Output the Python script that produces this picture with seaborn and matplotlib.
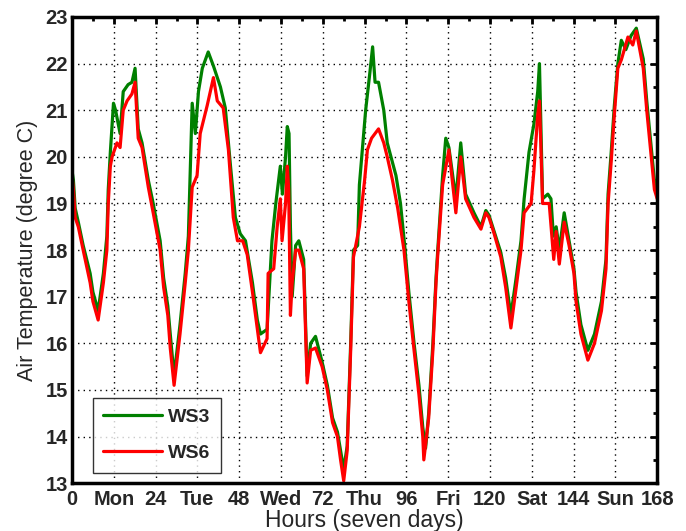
import pandas as pd
import seaborn as sns
import matplotlib
matplotlib.use("Agg")
import matplotlib.pyplot as plt
from matplotlib.ticker import MultipleLocator

# hours / temperature
ws3_hours = [0, 0.4, 0.9, 1.8, 3.2, 5.2, 6, 7.5, 9, 10, 10.4, 11, 11.9, 12.5, 13.8, 14.7, 16.1, 17.2, 18.1,
             19, 20.1, 21.9, 23.3, 25.3, 26.3, 27.5, 28.2, 29.3, 31, 32.5, 33.4, 34.5, 35.4, 36.3, 37.4, 39.1,
             40.6, 42.6, 44, 45.5, 46.9, 48.3, 49.8, 51.8, 53.2, 54.1, 56, 57.4, 58.5, 59.3, 59.8, 60.4, 61.3,
             61.8, 62.3, 62.7, 63.2, 64.2, 65.1, 66.5, 67.5, 68.5, 69.9, 71.8, 73.3, 74.8, 76.2, 77.1, 78, 79,
             80, 80.8, 82, 82.5, 84.3, 85.5, 86.3, 87, 88, 89.5, 90.5, 93, 94.3, 95.5, 96.7, 98.2, 99.6, 100.7,
             101.5, 102.4, 103.6, 104.5, 105, 106.4, 107.3, 108.2, 110.2, 111.6, 113, 115.4, 117.4, 118.8,
             119.7, 121.2, 123.1, 124.5, 126, 127.5, 128.9, 129.8, 131.2, 132.6, 133.7, 134.2, 135.1, 136.6,
             137.5, 138.2, 139, 139.9, 141.3, 142.7, 144.1, 144.7, 146.1, 148.1, 150, 152, 153.3, 153.9, 154.8,
             155.7, 156.7, 157.7, 159, 160.5, 162, 164, 165, 166.3, 167.2, 168]
ws3_temp = [19.7, 19.5, 18.9, 18.6, 18.1, 17.5, 17.1, 16.7, 17.5, 18.3, 19.3, 20.1, 21.15, 21.0, 20.5, 21.4,
            21.55, 21.6, 21.9, 20.6, 20.3, 19.5, 19.0, 18.2, 17.4, 16.8, 16.2, 15.3, 16.4, 17.5, 18.3, 21.15,
            20.5, 21.4, 21.9, 22.25, 21.95, 21.5, 21.05, 19.8, 18.7, 18.35, 18.2, 17.3, 16.5, 16.2, 16.3, 18.2,
            19.0, 19.5, 19.8, 19.2, 20.0, 20.65, 20.5, 18.5, 17.0, 18.1, 18.2, 17.8, 15.3, 16.0, 16.15, 15.6,
            15.1, 14.4, 14.1, 13.7, 13.3, 13.8, 16.0, 18.0, 18.1, 19.4, 21.0, 21.8, 22.36, 21.6, 21.6, 21.0,
            20.3, 19.6, 19.0, 18.1, 17.1, 16.0, 15.1, 14.2, 13.75, 14.5, 16.0, 17.4, 18.0, 19.6, 20.4, 20.2,
            19.1, 20.3, 19.2, 18.8, 18.5, 18.85, 18.75, 18.4, 17.95, 17.4, 16.6, 17.4, 18.2, 19.1, 20.1, 20.7,
            21.4, 22.0, 19.1, 19.2, 19.1, 18.3, 18.5, 18.0, 18.8, 18.2, 17.6, 17.1, 16.4, 15.85, 16.2, 16.9,
            17.8, 19.2, 20.1, 21.1, 22.0, 22.5, 22.3, 22.6, 22.76, 22.1, 21.2, 20.2, 19.5, 19.2]

ws6_hours = [0, 0.4, 0.9, 1.8, 3.2, 5.2, 6, 7.5, 9, 10, 10.4, 11, 11.5, 12.9, 13.8, 14.7, 15.8, 17.2, 18.1,
             19, 20.1, 21.9, 23.3, 25.3, 26.3, 27.5, 28.2, 29.3, 31, 32.5, 33.4, 34.5, 35.9, 36.8, 38.8, 40.6,
             41.7, 43.4, 44.9, 46.3, 47.5, 49, 50.3, 51.8, 53.2, 54.1, 56, 56.3, 57.9, 58.9, 59.8, 60.3, 61.3,
             61.8, 62.2, 62.7, 63.2, 64.2, 65.1, 66.5, 67.5, 68.5, 69.9, 71.8, 73.3, 74.8, 76.2, 77.1, 78, 79,
             80, 80.8, 82.5, 84, 84.8, 86, 88, 89.5, 90.5, 92, 93.5, 95.3, 96.7, 98.2, 99.6, 100.7, 101, 102.4,
             103.6, 104.5, 105, 106.4, 108.2, 110.2, 111.6, 113, 115.4, 117.4, 118.8, 119.7, 121.2, 123.1,
             124.5, 126, 127.5, 128.9, 129.8, 131.8, 132.6, 133.2, 133.7, 134.2, 135.1, 137, 138, 138.3, 139,
             139.9, 141.3, 142.7, 144.1, 144.7, 146.1, 148.1, 150, 152, 153.3, 153.9, 154.8, 155.7, 156.7,
             157.7, 159.6, 161, 162, 164, 165, 166.3, 167.2, 168]
ws6_temp = [19.6, 19.3, 18.7, 18.5, 18.0, 17.3, 16.9, 16.5, 17.3, 18.0, 19.0, 19.8, 20.0, 20.3, 20.2, 21.0,
            21.2, 21.35, 21.6, 20.4, 20.2, 19.35, 18.8, 18.0, 17.2, 16.6, 15.9, 15.1, 16.2, 17.3, 18.0, 19.35,
            19.6, 20.5, 21.1, 21.7, 21.2, 21.05, 20.15, 18.7, 18.2, 18.2, 17.9, 17.1, 16.3, 15.8, 16.1, 17.5,
            17.6, 18.5, 19.1, 18.2, 19.0, 19.8, 19.3, 16.6, 17.3, 18.0, 18.0, 17.6, 15.15, 15.85, 15.9, 15.5,
            15.0, 14.3, 14.0, 13.5, 13.05, 13.7, 15.85, 17.85, 18.5, 19.5, 20.15, 20.4, 20.6, 20.3, 20.0, 19.5,
            18.9, 18.0, 16.9, 15.85, 14.9, 14.0, 13.5, 14.4, 15.85, 17.3, 17.9, 19.4, 20.15, 18.8, 20.0, 19.1,
            18.7, 18.45, 18.8, 18.7, 18.35, 17.85, 17.2, 16.33, 17.2, 18.0, 18.8, 19.0, 19.7, 20.35, 20.9, 21.2,
            19.0, 19.0, 18.07, 17.8, 18.4, 17.7, 18.6, 18.1, 17.5, 16.9, 16.2, 15.64, 16.0, 16.7, 17.6, 19.0,
            19.9, 20.9, 21.9, 22.08, 22.57, 22.4, 22.7, 21.9, 21.0, 20.0, 19.3, 19.1]

df = pd.concat([
    pd.DataFrame({"Hours": ws3_hours, "Temp": ws3_temp, "Station": "WS3"}),
    pd.DataFrame({"Hours": ws6_hours, "Temp": ws6_temp, "Station": "WS6"}),
])

tick_pos = list(range(0, 169, 12))
tick_labels = ["0", "Mon", "24", "Tue", "48", "Wed", "72", "Thu", "96", "Fri", "120", "Sat", "144", "Sun", "168"]

sns.set_style("white")
plt.rcParams["font.family"] = ["Liberation Sans", "DejaVu Sans"]

fig = plt.figure(figsize=(6.86, 5.31), dpi=100)
ax = fig.add_axes([0.105, 0.09, 0.853, 0.878])
sns.lineplot(data=df, x="Hours", y="Temp", hue="Station", palette={"WS3": "green", "WS6": "red"},
             estimator=None, sort=False, linewidth=2.3, ax=ax)

ax.set_xlim(0, 168)
ax.set_ylim(13, 23)
ax.set_xticks(tick_pos)
ax.set_xticklabels(tick_labels)
ax.xaxis.set_minor_locator(MultipleLocator(6))
ax.yaxis.set_major_locator(MultipleLocator(1))
ax.yaxis.set_minor_locator(MultipleLocator(0.5))
ax.tick_params(which="both", direction="in", top=True, right=True, width=2, color="black")
ax.tick_params(which="major", length=5, labelsize=14.5)
ax.tick_params(axis="x", which="major", pad=5)
ax.tick_params(axis="y", which="major", pad=3)
ax.tick_params(which="minor", length=3)
for lab in ax.get_xticklabels() + ax.get_yticklabels():
    lab.set_fontweight("bold")
ax.grid(True, which="major", linestyle=(0, (1, 3)), color="black", linewidth=1)
for s in ax.spines.values():
    s.set_linewidth(2.5)
    s.set_color("black")

ax.set_xlabel("Hours (seven days)", fontsize=16.5, labelpad=0)
ax.set_ylabel("Air Temperature (degree C)", fontsize=15.5, labelpad=5)

leg = ax.legend(loc="lower left", bbox_to_anchor=(0.035, 0.022), fontsize=14, frameon=True, fancybox=False,
                edgecolor="black", handlelength=3.0, handletextpad=0.35, borderpad=0.55, labelspacing=0.95,
                borderaxespad=0)
leg.get_frame().set_linewidth(1)
for t in leg.get_texts():
    t.set_fontweight("bold")

fig.savefig("out.png", dpi=100, facecolor="white")
